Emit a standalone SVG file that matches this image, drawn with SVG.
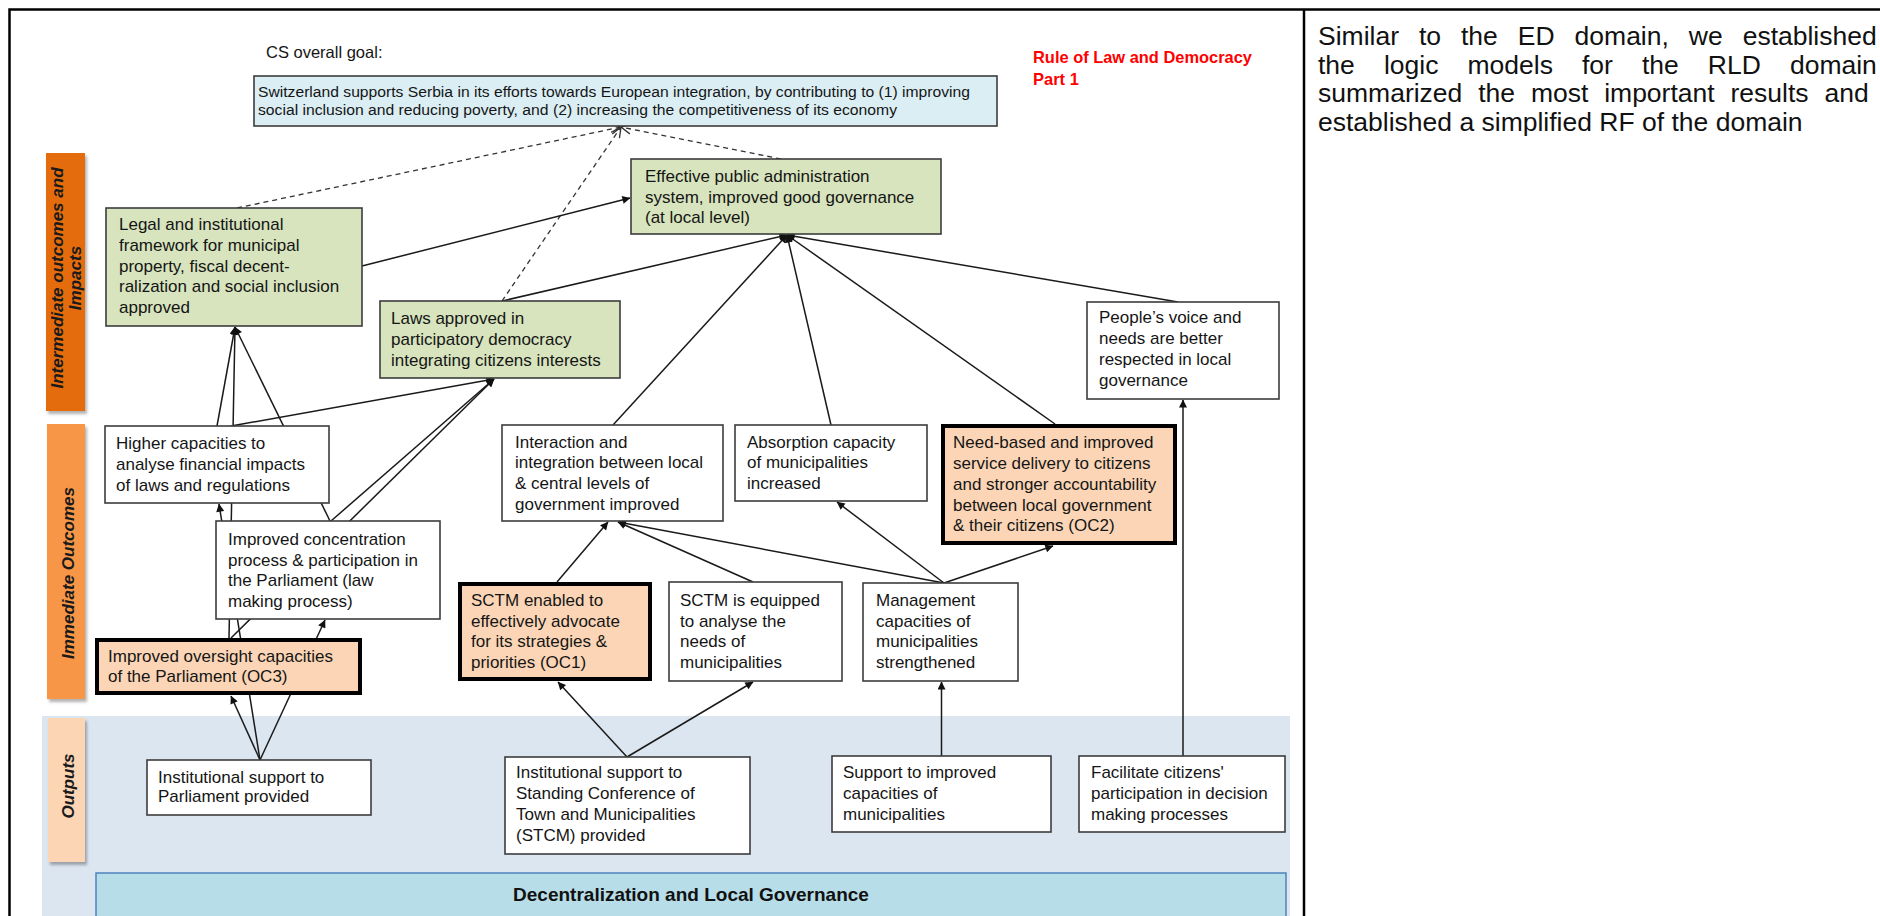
<svg xmlns="http://www.w3.org/2000/svg" width="1880" height="916" viewBox="0 0 1880 916">
<defs>
  <marker id="arrow" viewBox="0 0 10 10" refX="9.5" refY="5" markerWidth="10" markerHeight="8" markerUnits="userSpaceOnUse" orient="auto">
    <path d="M0,0 L10,5 L0,10 Z" fill="#111"/>
  </marker>
  <marker id="open" viewBox="0 0 12 12" refX="11" refY="6" markerWidth="12" markerHeight="12" markerUnits="userSpaceOnUse" orient="auto">
    <path d="M1,1 L11,6 L1,11" fill="none" stroke="#333" stroke-width="1.3"/>
  </marker>
  <filter id="shadow" x="-20%" y="-10%" width="150%" height="125%">
    <feDropShadow dx="2" dy="3" stdDeviation="1.5" flood-color="#000" flood-opacity="0.3"/>
  </filter>
</defs>
<style>
  .t { font-family: "Liberation Sans", Arial, sans-serif; font-size: 17px; fill: #151515; }
  .goal { font-family: "Liberation Sans", Arial, sans-serif; font-size: 15.5px; fill: #151515; }
  .box { fill: #ffffff; stroke: #3c3c3c; stroke-width: 1.6; }
  .green { fill: #d7e4bd; }
  .key { fill: #fbd5b5; stroke: #000000; stroke-width: 4; }
  .conn { fill: none; stroke: #1a1a1a; stroke-width: 1.5; marker-end: url(#arrow); }
  .dash { fill: none; stroke: #333333; stroke-width: 1.3; stroke-dasharray: 5 4; marker-end: url(#open); }
  .lvl { font-family: "Liberation Sans", Arial, sans-serif; font-size: 17px; font-weight: bold; font-style: italic; fill: #1a1a1a; text-anchor: middle; }
  .note { font-family: "Liberation Sans", Arial, sans-serif; font-size: 26.5px; fill: #111111; }
</style>

<rect x="0" y="0" width="1880" height="916" fill="#ffffff"/>

<!-- outputs band and domain bar -->
<rect x="42" y="716" width="1248" height="200" fill="#dce6f1"/>
<g id="domain">
  <rect x="96" y="873" width="1190" height="60" fill="#b7dde8" stroke="#4f81bd" stroke-width="1.5"/>
  <text x="691" y="901" font-family="Liberation Sans, Arial, sans-serif" font-size="19" font-weight="bold" fill="#111" text-anchor="middle">Decentralization and Local Governance</text>
</g>

<!-- level labels -->
<g id="level-intermediate">
  <rect x="46" y="153" width="39" height="258" fill="#e46c0a" filter="url(#shadow)"/>
  <text class="lvl" transform="translate(63,278) rotate(-90)">Intermediate outcomes and</text>
  <text class="lvl" transform="translate(81,278) rotate(-90)">Impacts</text>
</g>
<g id="level-immediate">
  <rect x="47" y="424" width="38" height="275" fill="#f79646" filter="url(#shadow)"/>
  <text class="lvl" transform="translate(74,573) rotate(-90)">Immediate Outcomes</text>
</g>
<g id="level-outputs">
  <rect x="48" y="718" width="37" height="144" fill="#fcd5b4" filter="url(#shadow)"/>
  <text class="lvl" transform="translate(74,786) rotate(-90)">Outputs</text>
</g>

<!-- frame -->
<path d="M9.5,916 V9.5 H1880" fill="none" stroke="#000" stroke-width="2.5"/>
<line x1="1304" y1="9" x2="1304" y2="916" stroke="#000" stroke-width="2.5"/>

<!-- headings -->
<text x="266" y="58" font-family="Liberation Sans, Arial, sans-serif" font-size="16.5" fill="#151515">CS overall goal:</text>
<g id="title" font-family="Liberation Sans, Arial, sans-serif" font-size="16.5" font-weight="bold" fill="#ff0000">
  <text x="1033" y="63" textLength="219" lengthAdjust="spacingAndGlyphs">Rule of Law and Democracy</text>
  <text x="1033" y="85">Part 1</text>
</g>

<!-- commentary column (justified lines use word spacing) -->
<g id="commentary" class="note">
  <text x="1318" y="45" style="word-spacing:12.6px">Similar to the ED domain, we established</text>
  <text x="1318" y="73.5" style="word-spacing:21.7px">the logic models for the RLD domain</text>
  <text x="1318" y="102" style="word-spacing:8.5px">summarized the most important results and</text>
  <text x="1318" y="130.5">established a simplified RF of the domain</text>
</g>

<!-- connectors -->
<g id="connectors">
  <path class="dash" d="M237,208 L621,127"/>
  <path class="dash" d="M502,301 L621,127"/>
  <path class="dash" d="M781,159 L621,127"/>

  <path class="conn" d="M260,760 L231,696"/>
  <path class="conn" d="M260,760 L219,504"/>
  <path class="conn" d="M260,760 L325,620"/>
  <path class="conn" d="M229,638 L235,327"/>
  <path class="conn" d="M231,638 L494,379"/>
  <path class="conn" d="M330,521 L235,327"/>
  <path class="conn" d="M331,521 L494,379"/>
  <path class="conn" d="M217,426 L235,327"/>
  <path class="conn" d="M231,426 L494,379"/>
  <path class="conn" d="M362,266 L630,198"/>
  <path class="conn" d="M502,301 L787,235"/>
  <path class="conn" d="M613,425 L787,235"/>
  <path class="conn" d="M831,425 L787,235"/>
  <path class="conn" d="M1055,424 L787,235"/>
  <path class="conn" d="M1178,302 L787,235"/>
  <path class="conn" d="M557,582 L608,522"/>
  <path class="conn" d="M753,582 L618,522"/>
  <path class="conn" d="M944,583 L618,522"/>
  <path class="conn" d="M944,583 L837,502"/>
  <path class="conn" d="M944,583 L1053,546"/>
  <path class="conn" d="M627,757 L558,682"/>
  <path class="conn" d="M627,757 L753,682"/>
  <path class="conn" d="M941.5,756 L941.5,682"/>
  <path class="conn" d="M1183,756 L1183,400"/>
</g>

<!-- overall goal -->
<g id="goal">
  <rect x="254" y="76" width="743" height="50" fill="#dbeef4" stroke="#3c3c3c" stroke-width="1.6"/>
  <text class="goal" x="258" y="96.5" textLength="712" lengthAdjust="spacingAndGlyphs">Switzerland supports Serbia in its efforts towards European integration, by contributing to (1) improving</text>
  <text class="goal" x="258" y="115" textLength="639" lengthAdjust="spacingAndGlyphs">social inclusion and reducing poverty, and (2) increasing the competitiveness of its economy</text>
</g>

<!-- intermediate outcomes and impacts -->
<g id="effective-administration">
  <rect class="box green" x="631" y="159" width="310" height="75"/>
  <text class="t"><tspan x="645" y="182">Effective public administration</tspan><tspan x="645" y="203">system, improved good governance</tspan><tspan x="645" y="223">(at local level)</tspan></text>
</g>
<g id="legal-framework">
  <rect class="box green" x="106" y="208" width="256" height="118"/>
  <text class="t"><tspan x="119" y="230">Legal and institutional</tspan><tspan x="119" y="251">framework for municipal</tspan><tspan x="119" y="272">property, fiscal decent-</tspan><tspan x="119" y="292">ralization and social inclusion</tspan><tspan x="119" y="313">approved</tspan></text>
</g>
<g id="laws-approved">
  <rect class="box green" x="380" y="301" width="240" height="77"/>
  <text class="t"><tspan x="391" y="324">Laws approved in</tspan><tspan x="391" y="345">participatory democracy</tspan><tspan x="391" y="366">integrating citizens interests</tspan></text>
</g>
<g id="peoples-voice">
  <rect class="box" x="1087" y="302" width="192" height="97"/>
  <text class="t"><tspan x="1099" y="323">People’s voice and</tspan><tspan x="1099" y="344">needs are better</tspan><tspan x="1099" y="365">respected in local</tspan><tspan x="1099" y="386">governance</tspan></text>
</g>

<!-- immediate outcomes -->
<g id="higher-capacities">
  <rect class="box" x="105" y="426" width="224" height="77"/>
  <text class="t"><tspan x="116" y="449">Higher capacities to</tspan><tspan x="116" y="470">analyse financial impacts</tspan><tspan x="116" y="491">of laws and regulations</tspan></text>
</g>
<g id="interaction">
  <rect class="box" x="502" y="425" width="221" height="96"/>
  <text class="t"><tspan x="515" y="448">Interaction and</tspan><tspan x="515" y="468">integration between local</tspan><tspan x="515" y="489">&amp; central levels of</tspan><tspan x="515" y="510">government improved</tspan></text>
</g>
<g id="absorption">
  <rect class="box" x="735" y="425" width="192" height="76"/>
  <text class="t"><tspan x="747" y="448">Absorption capacity</tspan><tspan x="747" y="468">of municipalities</tspan><tspan x="747" y="489">increased</tspan></text>
</g>
<g id="service-delivery-oc2">
  <rect class="key" x="943" y="426" width="232" height="117"/>
  <text class="t"><tspan x="953" y="448">Need-based and improved</tspan><tspan x="953" y="469">service delivery to citizens</tspan><tspan x="953" y="490">and stronger accountability</tspan><tspan x="953" y="511">between local government</tspan><tspan x="953" y="531">&amp; their citizens (OC2)</tspan></text>
</g>
<g id="concentration-process">
  <rect class="box" x="216" y="521" width="224" height="98"/>
  <text class="t"><tspan x="228" y="545">Improved concentration</tspan><tspan x="228" y="566">process &amp; participation in</tspan><tspan x="228" y="586">the Parliament (law</tspan><tspan x="228" y="607">making process)</tspan></text>
</g>
<g id="sctm-advocacy-oc1">
  <rect class="key" x="460" y="584" width="190" height="95"/>
  <text class="t"><tspan x="471" y="606">SCTM enabled to</tspan><tspan x="471" y="627">effectively advocate</tspan><tspan x="471" y="647">for its strategies &amp;</tspan><tspan x="471" y="668">priorities (OC1)</tspan></text>
</g>
<g id="sctm-equipped">
  <rect class="box" x="669" y="582" width="173" height="99"/>
  <text class="t"><tspan x="680" y="606">SCTM is equipped</tspan><tspan x="680" y="627">to analyse the</tspan><tspan x="680" y="647">needs of</tspan><tspan x="680" y="668">municipalities</tspan></text>
</g>
<g id="management-capacities">
  <rect class="box" x="863" y="583" width="155" height="98"/>
  <text class="t"><tspan x="876" y="606">Management</tspan><tspan x="876" y="627">capacities of</tspan><tspan x="876" y="647">municipalities</tspan><tspan x="876" y="668">strengthened</tspan></text>
</g>
<g id="oversight-oc3">
  <rect class="key" x="97" y="640" width="263" height="53"/>
  <text class="t"><tspan x="108" y="662">Improved oversight capacities</tspan><tspan x="108" y="682">of the Parliament (OC3)</tspan></text>
</g>

<!-- outputs -->
<g id="support-parliament">
  <rect class="box" x="147" y="760" width="224" height="55"/>
  <text class="t"><tspan x="158" y="783">Institutional support to</tspan><tspan x="158" y="802">Parliament provided</tspan></text>
</g>
<g id="support-stcm">
  <rect class="box" x="505" y="757" width="245" height="97"/>
  <text class="t"><tspan x="516" y="778">Institutional support to</tspan><tspan x="516" y="799">Standing Conference of</tspan><tspan x="516" y="820">Town and Municipalities</tspan><tspan x="516" y="841">(STCM) provided</tspan></text>
</g>
<g id="support-municipalities">
  <rect class="box" x="832" y="756" width="219" height="76"/>
  <text class="t"><tspan x="843" y="778">Support to improved</tspan><tspan x="843" y="799">capacities of</tspan><tspan x="843" y="820">municipalities</tspan></text>
</g>
<g id="citizen-participation">
  <rect class="box" x="1079" y="756" width="206" height="76"/>
  <text class="t"><tspan x="1091" y="778">Facilitate citizens'</tspan><tspan x="1091" y="799">participation in decision</tspan><tspan x="1091" y="820">making processes</tspan></text>
</g>
</svg>
